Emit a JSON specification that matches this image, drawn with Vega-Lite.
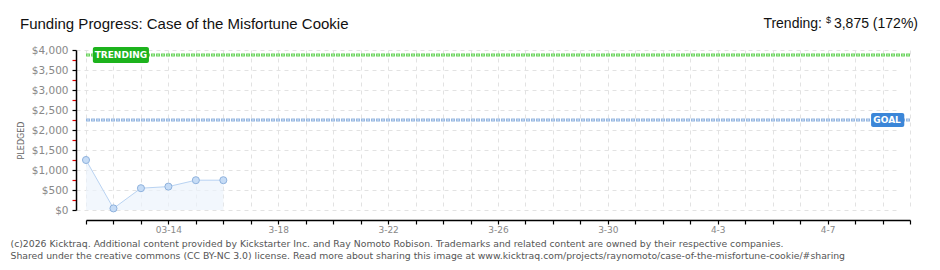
{
  "$schema": "https://vega.github.io/schema/vega-lite/v6.json",
  "width": 824,
  "height": 160,
  "autosize": {"type": "none"},
  "padding": {"left": 86, "top": 50, "right": 30, "bottom": 60},
  "background": "white",
  "config": {
    "view": {"stroke": null},
    "font": "DejaVu Sans",
    "axisY": {
      "offset": 10,
      "labelFont": "DejaVu Sans",
      "labelFontSize": 10.5,
      "labelColor": "#888",
      "labelPadding": 4,
      "labelOverlap": false,
      "domainColor": "#000",
      "domainWidth": 1.5,
      "tickSize": 4,
      "tickWidth": 1.2,
      "grid": true,
      "gridColor": "#e2e2e2",
      "gridDash": [4, 4],
      "titleFont": "DejaVu Sans",
      "titleFontSize": 8,
      "titleFontWeight": "normal",
      "titleColor": "#666",
      "titlePadding": 6,
      "titleY": 90
    }
  },
  "datasets": {
    "pledges": [
      {"date": "2025-03-11", "pledged": 1250},
      {"date": "2025-03-12", "pledged": 40},
      {"date": "2025-03-13", "pledged": 545},
      {"date": "2025-03-14", "pledged": 585},
      {"date": "2025-03-15", "pledged": 745},
      {"date": "2025-03-16", "pledged": 745}
    ],
    "levels": [
      {"label": "TRENDING", "value": 3875},
      {"label": "GOAL", "value": 2250}
    ],
    "one": [{}]
  },
  "layer": [
    {
      "data": {"name": "pledges"},
      "mark": {
        "type": "area",
        "color": "#ecf3fc",
        "line": {"color": "#b9d3f2", "strokeWidth": 1},
        "point": {"filled": true, "size": 50, "fill": "#c6dcf6", "stroke": "#8fb2dd", "strokeWidth": 1, "opacity": 1}
      },
      "encoding": {
        "x": {
          "field": "date",
          "type": "temporal",
          "scale": {
            "type": "utc",
            "domain": [
              {"year": 2025, "month": 3, "date": 11, "utc": true},
              {"year": 2025, "month": 4, "date": 10, "utc": true}
            ]
          },
          "axis": {
            "offset": 10,
            "tickCount": {"interval": "day", "step": 1},
            "labelExpr": "utcmonth(datum.value) == 2 && utcdate(datum.value) == 14 ? '03-14' : (round((datum.value - utc(2025,2,14)) / 86400000) % 4 == 0 && datum.value > utc(2025,2,14) ? (utcmonth(datum.value) + 1) + '-' + utcdate(datum.value) : '')",
            "labelFont": "DejaVu Sans",
            "labelFontSize": 9,
            "labelColor": "#888",
            "labelPadding": 1,
            "labelOverlap": false,
            "labelFlush": false,
            "domainColor": "#000",
            "domainWidth": 1.5,
            "tickColor": "#000",
            "tickSize": 4,
            "tickWidth": 1.2,
            "grid": true,
            "gridColor": "#e2e2e2",
            "gridDash": [4, 4],
            "title": [
              "(c)2026 Kicktraq. Additional content provided by Kickstarter Inc. and Ray Nomoto Robison. Trademarks and related content are owned by their respective companies.",
              "Shared under the creative commons (CC BY-NC 3.0) license. Read more about sharing this image at www.kicktraq.com/projects/raynomoto/case-of-the-misfortune-cookie/#sharing"
            ],
            "titleAnchor": "start",
            "titleAlign": "left",
            "titleBaseline": "top",
            "titleX": -76,
            "titleY": 19,
            "titleLineHeight": 12.5,
            "titleFont": "DejaVu Sans",
            "titleFontSize": 9.3,
            "titleFontWeight": "normal",
            "titleColor": "#555"
          }
        },
        "y": {
          "field": "pledged",
          "type": "quantitative",
          "scale": {"domain": [0, 4000], "nice": false},
          "axis": {
            "values": [0, 250, 500, 750, 1000, 1250, 1500, 1750, 2000, 2250, 2500, 2750, 3000, 3250, 3500, 3750, 4000],
            "format": "$,.0f",
            "labelExpr": "datum.value % 500 === 0 ? datum.label : ''",
            "tickColor": {"expr": "datum.value % 500 === 0 ? '#000' : '#e00000'"},
            "gridOpacity": {"expr": "datum.value % 500 === 0 ? 1 : 0"},
            "title": "PLEDGED"
          }
        }
      }
    },
    {
      "data": {"name": "levels"},
      "mark": {"type": "rule", "strokeWidth": 3, "strokeDash": [4, 1]},
      "encoding": {
        "y": {
          "field": "value",
          "type": "quantitative",
          "axis": {
            "values": [0, 250, 500, 750, 1000, 1250, 1500, 1750, 2000, 2250, 2500, 2750, 3000, 3250, 3500, 3750, 4000],
            "format": "$,.0f",
            "labelExpr": "datum.value % 500 === 0 ? datum.label : ''",
            "tickColor": {"expr": "datum.value % 500 === 0 ? '#000' : '#e00000'"},
            "gridOpacity": {"expr": "datum.value % 500 === 0 ? 1 : 0"},
            "title": "PLEDGED"
          }
        },
        "color": {"field": "label", "type": "nominal", "scale": {"domain": ["TRENDING", "GOAL"], "range": ["#6bd35e", "#93b5e0"]}, "legend": null}
      }
    },
    {
      "data": {"name": "levels"},
      "mark": {"type": "rule", "strokeWidth": 1, "strokeDash": [2, 3], "strokeDashOffset": -1},
      "encoding": {
        "y": {
          "field": "value",
          "type": "quantitative",
          "axis": {
            "values": [0, 250, 500, 750, 1000, 1250, 1500, 1750, 2000, 2250, 2500, 2750, 3000, 3250, 3500, 3750, 4000],
            "format": "$,.0f",
            "labelExpr": "datum.value % 500 === 0 ? datum.label : ''",
            "tickColor": {"expr": "datum.value % 500 === 0 ? '#000' : '#e00000'"},
            "gridOpacity": {"expr": "datum.value % 500 === 0 ? 1 : 0"},
            "title": "PLEDGED"
          }
        },
        "stroke": {"field": "label", "type": "nominal", "scale": {"domain": ["TRENDING", "GOAL"], "range": ["#c8f2c0", "#d3e2f5"]}, "legend": null}
      }
    },
    {
      "data": {"name": "one"},
      "mark": {"type": "rect", "color": "#1db31d", "cornerRadius": 2},
      "encoding": {
        "x": {"datum": {"year": 2025, "month": 3, "date": 11, "hours": 6, "utc": true}, "type": "temporal"},
        "x2": {"datum": {"year": 2025, "month": 3, "date": 13, "hours": 7, "utc": true}},
        "y": {
          "datum": 4075,
          "type": "quantitative",
          "axis": {
            "values": [0, 250, 500, 750, 1000, 1250, 1500, 1750, 2000, 2250, 2500, 2750, 3000, 3250, 3500, 3750, 4000],
            "format": "$,.0f",
            "labelExpr": "datum.value % 500 === 0 ? datum.label : ''",
            "tickColor": {"expr": "datum.value % 500 === 0 ? '#000' : '#e00000'"},
            "gridOpacity": {"expr": "datum.value % 500 === 0 ? 1 : 0"},
            "title": "PLEDGED"
          }
        },
        "y2": {"datum": 3675}
      }
    },
    {
      "data": {"name": "one"},
      "mark": {"type": "text", "text": "TRENDING", "color": "white", "font": "DejaVu Sans", "fontSize": 9, "fontWeight": "bold", "align": "center", "baseline": "middle"},
      "encoding": {
        "x": {"datum": {"year": 2025, "month": 3, "date": 12, "hours": 6, "minutes": 30, "utc": true}, "type": "temporal"},
        "y": {
          "datum": 3875,
          "type": "quantitative",
          "axis": {
            "values": [0, 250, 500, 750, 1000, 1250, 1500, 1750, 2000, 2250, 2500, 2750, 3000, 3250, 3500, 3750, 4000],
            "format": "$,.0f",
            "labelExpr": "datum.value % 500 === 0 ? datum.label : ''",
            "tickColor": {"expr": "datum.value % 500 === 0 ? '#000' : '#e00000'"},
            "gridOpacity": {"expr": "datum.value % 500 === 0 ? 1 : 0"},
            "title": "PLEDGED"
          }
        }
      }
    },
    {
      "data": {"name": "one"},
      "mark": {"type": "rect", "color": "#3b86d8", "cornerRadius": 2},
      "encoding": {
        "x": {"datum": {"year": 2025, "month": 4, "date": 8, "hours": 14, "utc": true}, "type": "temporal"},
        "x2": {"datum": {"year": 2025, "month": 4, "date": 9, "hours": 19, "utc": true}},
        "y": {
          "datum": 2425,
          "type": "quantitative",
          "axis": {
            "values": [0, 250, 500, 750, 1000, 1250, 1500, 1750, 2000, 2250, 2500, 2750, 3000, 3250, 3500, 3750, 4000],
            "format": "$,.0f",
            "labelExpr": "datum.value % 500 === 0 ? datum.label : ''",
            "tickColor": {"expr": "datum.value % 500 === 0 ? '#000' : '#e00000'"},
            "gridOpacity": {"expr": "datum.value % 500 === 0 ? 1 : 0"},
            "title": "PLEDGED"
          }
        },
        "y2": {"datum": 2075}
      }
    },
    {
      "data": {"name": "one"},
      "mark": {"type": "text", "text": "GOAL", "color": "white", "font": "DejaVu Sans", "fontSize": 9, "fontWeight": "bold", "align": "center", "baseline": "middle"},
      "encoding": {
        "x": {"datum": {"year": 2025, "month": 4, "date": 9, "hours": 4, "utc": true}, "type": "temporal"},
        "y": {
          "datum": 2250,
          "type": "quantitative",
          "axis": {
            "values": [0, 250, 500, 750, 1000, 1250, 1500, 1750, 2000, 2250, 2500, 2750, 3000, 3250, 3500, 3750, 4000],
            "format": "$,.0f",
            "labelExpr": "datum.value % 500 === 0 ? datum.label : ''",
            "tickColor": {"expr": "datum.value % 500 === 0 ? '#000' : '#e00000'"},
            "gridOpacity": {"expr": "datum.value % 500 === 0 ? 1 : 0"},
            "title": "PLEDGED"
          }
        }
      }
    },
    {
      "data": {"name": "one"},
      "mark": {"type": "text", "text": "Funding Progress: Case of the Misfortune Cookie", "color": "#111", "font": "Liberation Sans", "fontSize": 15, "align": "left", "baseline": "middle", "dx": -66},
      "encoding": {
        "x": {"datum": {"year": 2025, "month": 3, "date": 11, "utc": true}, "type": "temporal"},
        "y": {
          "datum": 4650,
          "type": "quantitative",
          "axis": {
            "values": [0, 250, 500, 750, 1000, 1250, 1500, 1750, 2000, 2250, 2500, 2750, 3000, 3250, 3500, 3750, 4000],
            "format": "$,.0f",
            "labelExpr": "datum.value % 500 === 0 ? datum.label : ''",
            "tickColor": {"expr": "datum.value % 500 === 0 ? '#000' : '#e00000'"},
            "gridOpacity": {"expr": "datum.value % 500 === 0 ? 1 : 0"},
            "title": "PLEDGED"
          }
        }
      }
    },
    {
      "data": {"name": "one"},
      "mark": {"type": "text", "text": "Trending:", "color": "#111", "font": "Liberation Sans", "fontSize": 14, "align": "right", "baseline": "middle", "dx": -88},
      "encoding": {
        "x": {"datum": {"year": 2025, "month": 4, "date": 10, "utc": true}, "type": "temporal"},
        "y": {
          "datum": 4650,
          "type": "quantitative",
          "axis": {
            "values": [0, 250, 500, 750, 1000, 1250, 1500, 1750, 2000, 2250, 2500, 2750, 3000, 3250, 3500, 3750, 4000],
            "format": "$,.0f",
            "labelExpr": "datum.value % 500 === 0 ? datum.label : ''",
            "tickColor": {"expr": "datum.value % 500 === 0 ? '#000' : '#e00000'"},
            "gridOpacity": {"expr": "datum.value % 500 === 0 ? 1 : 0"},
            "title": "PLEDGED"
          }
        }
      }
    },
    {
      "data": {"name": "one"},
      "mark": {"type": "text", "text": "$", "color": "#111", "font": "Liberation Sans", "fontSize": 9, "align": "right", "baseline": "middle", "dx": -79, "dy": -4},
      "encoding": {
        "x": {"datum": {"year": 2025, "month": 4, "date": 10, "utc": true}, "type": "temporal"},
        "y": {
          "datum": 4650,
          "type": "quantitative",
          "axis": {
            "values": [0, 250, 500, 750, 1000, 1250, 1500, 1750, 2000, 2250, 2500, 2750, 3000, 3250, 3500, 3750, 4000],
            "format": "$,.0f",
            "labelExpr": "datum.value % 500 === 0 ? datum.label : ''",
            "tickColor": {"expr": "datum.value % 500 === 0 ? '#000' : '#e00000'"},
            "gridOpacity": {"expr": "datum.value % 500 === 0 ? 1 : 0"},
            "title": "PLEDGED"
          }
        }
      }
    },
    {
      "data": {"name": "one"},
      "mark": {"type": "text", "text": "3,875 (172%)", "color": "#111", "font": "Liberation Sans", "fontSize": 14, "align": "right", "baseline": "middle", "dx": 8},
      "encoding": {
        "x": {"datum": {"year": 2025, "month": 4, "date": 10, "utc": true}, "type": "temporal"},
        "y": {
          "datum": 4650,
          "type": "quantitative",
          "axis": {
            "values": [0, 250, 500, 750, 1000, 1250, 1500, 1750, 2000, 2250, 2500, 2750, 3000, 3250, 3500, 3750, 4000],
            "format": "$,.0f",
            "labelExpr": "datum.value % 500 === 0 ? datum.label : ''",
            "tickColor": {"expr": "datum.value % 500 === 0 ? '#000' : '#e00000'"},
            "gridOpacity": {"expr": "datum.value % 500 === 0 ? 1 : 0"},
            "title": "PLEDGED"
          }
        }
      }
    }
  ]
}
